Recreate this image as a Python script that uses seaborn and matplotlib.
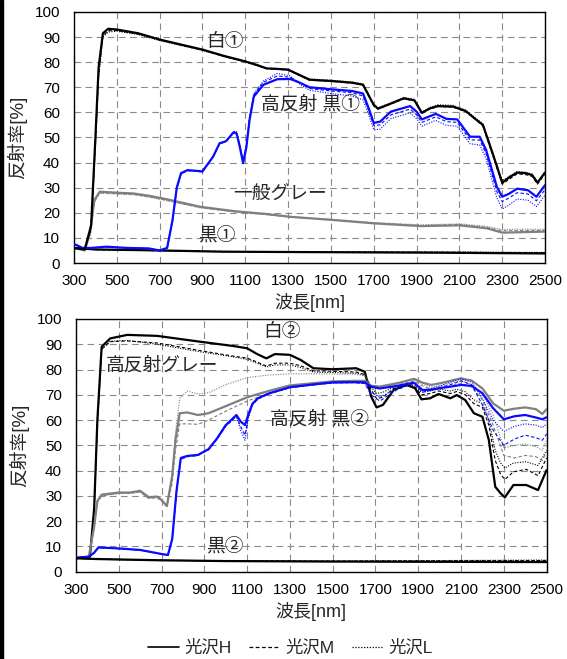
import numpy as np
import pandas as pd
import seaborn as sns
import matplotlib.pyplot as plt
from matplotlib.lines import Line2D

# ---- upper panel (①) ----
wl_white1 = [300, 350, 380, 400, 415, 435, 460, 500, 600, 700, 800, 900, 1000, 1100, 1150, 1200, 1250, 1300, 1350, 1400, 1500,
             1600, 1650, 1700, 1720, 1780, 1840, 1890, 1925, 1960, 2000, 2070, 2130, 2180, 2210, 2260, 2300, 2340, 2370, 2410,
             2440, 2465, 2500]
white1_H = [6.0, 5.4, 15, 50, 78, 91.5, 93.3, 93.0, 91.5, 89.0, 87.0, 85.0, 82.5, 80.3, 79.0, 77.5, 77.3, 77.0, 75.0, 73.0, 72.5,
            71.8, 71.0, 63.0, 61.5, 63.5, 65.6, 64.8, 59.8, 61.5, 62.5, 62.3, 60.5, 57.0, 55.0, 42.5, 32.0, 34.5, 36.0, 35.8,
            35.0, 32.0, 36.0]
white1_M = [6.0, 5.4, 14, 47, 75, 90.5, 92.5, 92.6, 91.2, 88.8, 86.8, 84.8, 82.3, 80.2, 78.8, 77.4, 77.2, 76.8, 74.8, 72.8, 72.4,
            71.6, 70.8, 62.6, 61.2, 63.3, 65.4, 64.6, 59.6, 61.3, 62.3, 62.1, 60.3, 56.8, 54.6, 41.8, 31.4, 33.8, 35.5, 35.2,
            34.5, 31.4, 35.5]
white1_L = [6.0, 5.4, 14, 46, 74, 90.0, 92.0, 92.3, 91.0, 88.6, 86.6, 84.7, 82.2, 80.0, 78.7, 77.5, 77.5, 77.2, 75.2, 73.3, 72.8,
            72.1, 71.3, 63.2, 61.8, 63.8, 65.9, 65.2, 60.1, 61.9, 63.0, 62.8, 60.9, 57.4, 55.4, 42.9, 32.8, 34.9, 36.4, 36.1,
            35.4, 32.4, 36.3]

wl_hb1 = [300, 340, 380, 450, 550, 650, 700, 735, 760, 780, 800, 830, 900, 950, 980, 1010, 1045, 1060, 1075, 1090, 1105, 1120,
          1140, 1185, 1250, 1310, 1350, 1400, 1500, 1600, 1650, 1675, 1700, 1730, 1780, 1870, 1900, 1925, 1990, 2040, 2090,
          2150, 2195, 2225, 2275, 2300, 2330, 2370, 2420, 2460, 2500]
hb1_H = [7.6, 6.0, 6.0, 6.5, 6.0, 5.8, 5.0, 6.0, 17, 30, 35.8, 37.0, 36.5, 42.4, 47.7, 48.5, 52.0, 51.5, 46, 39.8, 46, 57,
         66.3, 71.0, 73.2, 73.3, 72.0, 70.0, 69.2, 68.5, 67.5, 62, 55.8, 56.3, 60.3, 62.5, 60.3, 57.2, 59.4, 57.4, 57.2,
         50.3, 50.3, 45.0, 30.4, 26.4, 27.5, 29.6, 29.0, 26.4, 31.0]
hb1_M = [7.6, 6.0, 6.0, 6.4, 6.0, 5.8, 5.0, 6.0, 16.5, 29.5, 35.5, 36.8, 36.3, 42.2, 47.5, 48.3, 52.2, 52.0, 46.5, 40.5, 46.5, 57.5,
         67.0, 72.0, 74.5, 74.0, 72.0, 69.5, 68.5, 67.8, 66.5, 61.0, 54.8, 55.0, 59.0, 61.3, 59.0, 56.0, 58.2, 56.3, 56.0,
         49.0, 49.0, 43.5, 28.5, 24.5, 25.8, 28.0, 27.5, 24.8, 29.2]
hb1_L = [7.6, 6.0, 6.0, 6.4, 6.0, 5.8, 5.0, 6.0, 16.5, 29.5, 35.5, 36.8, 36.3, 42.2, 47.5, 48.3, 52.5, 52.3, 47.0, 41.0, 47.0, 58.0,
         67.5, 72.5, 75.5, 74.5, 71.5, 68.8, 67.5, 66.5, 65.0, 59.5, 53.0, 53.3, 57.5, 59.8, 57.5, 54.5, 56.8, 54.8, 54.5,
         47.5, 47.0, 41.5, 26.0, 21.5, 23.0, 25.5, 25.0, 22.5, 27.0]

wl_gray1 = [300, 350, 375, 395, 420, 500, 577, 650, 733, 889, 1044, 1200, 1309, 1500, 1700, 1920, 2100, 2230, 2300, 2400, 2500]
gray1_H = [6.0, 5.0, 11.8, 25.0, 28.4, 28.0, 27.7, 26.8, 25.4, 22.4, 20.7, 19.5, 18.4, 17.2, 15.8, 14.7, 15.0, 13.8, 12.1, 12.3, 12.5]
gray1_M = [6.0, 5.0, 11.5, 24.5, 28.0, 27.6, 27.3, 26.4, 25.0, 22.1, 20.5, 19.3, 18.3, 17.2, 15.9, 14.9, 15.3, 14.2, 12.8, 13.0, 13.0]
gray1_L = [6.0, 5.0, 11.3, 24.2, 27.8, 27.5, 27.2, 26.2, 24.8, 22.0, 20.4, 19.3, 18.4, 17.4, 16.1, 15.2, 15.6, 14.6, 13.3, 13.5, 13.4]

wl_black1 = [300, 400, 700, 1000, 1500, 2000, 2500]
black1_H = [6.0, 5.4, 5.0, 4.5, 4.3, 4.1, 3.8]
black1_M = [6.0, 5.3, 4.9, 4.6, 4.4, 4.3, 4.1]
black1_L = [6.0, 5.3, 4.9, 4.5, 4.4, 4.4, 4.2]

# ---- lower panel (②) ----
wl_white2 = [300, 365, 385, 400, 420, 460, 540, 680, 880, 1035, 1100, 1145, 1190, 1230, 1300, 1350, 1410, 1500, 1610, 1650,
             1680, 1705, 1735, 1785, 1845, 1885, 1915, 1955, 1995, 2050, 2080, 2120, 2160, 2200, 2230, 2260, 2285, 2305,
             2345, 2405, 2460, 2500]
white2_H = [5.3, 5.9, 25, 60, 89.0, 92.3, 93.7, 93.3, 91.0, 89.3, 88.4, 86.2, 84.4, 86.1, 85.8, 83.8, 80.5, 80.1, 80.5, 79.1,
            69.3, 65.0, 66.0, 71.9, 73.9, 72.6, 68.2, 68.6, 70.3, 68.6, 69.9, 67.9, 62.7, 61.3, 52.1, 33.6, 31.0, 29.4,
            34.3, 34.3, 32.3, 40.2]
white2_M = [5.3, 5.9, 24, 58, 88.0, 91.0, 91.3, 90.5, 87.5, 85.3, 84.5, 83.0, 81.4, 82.5, 82.5, 81.5, 79.5, 79.3, 79.0, 78.0,
            72.0, 68.5, 69.0, 72.5, 74.0, 73.0, 70.0, 70.5, 71.5, 70.5, 71.3, 70.0, 66.5, 65.0, 58.0, 44.0, 38.5, 36.5,
            39.5, 40.5, 38.0, 45.0]
white2_L = [5.3, 5.9, 24, 58, 88.0, 91.2, 91.5, 90.0, 87.0, 85.0, 84.0, 82.5, 81.0, 81.8, 81.8, 80.8, 79.0, 78.8, 78.5, 77.8,
            73.0, 70.5, 71.0, 73.0, 74.3, 73.5, 71.0, 71.5, 72.3, 71.5, 72.2, 71.2, 68.0, 66.5, 60.0, 48.0, 43.0, 41.0,
            43.0, 43.5, 42.0, 48.0]

wl_gray2 = [300, 360, 385, 400, 420, 500, 550, 600, 640, 680, 700, 725, 750, 765, 785, 820, 870, 920, 1000, 1100, 1200, 1300,
            1400, 1500, 1600, 1650, 1680, 1720, 1800, 1880, 1920, 1960, 2000, 2050, 2100, 2150, 2200, 2250, 2300, 2350, 2400,
            2450, 2480, 2500]
gray2_H = [5.5, 6.0, 17.8, 28.0, 30.5, 31.3, 31.3, 32.0, 29.5, 29.7, 28.4, 26.0, 38.0, 52.0, 62.7, 63.0, 62.0, 62.7, 65.5, 69.0,
           71.5, 73.7, 74.5, 75.3, 75.5, 75.5, 73.5, 73.2, 74.5, 76.3, 74.8, 73.9, 74.5, 75.5, 76.5, 75.6, 72.5, 66.6, 63.7,
           64.5, 65.0, 64.3, 62.4, 64.3]
gray2_M = [5.5, 6.0, 17.5, 27.5, 30.0, 31.0, 31.0, 31.5, 29.0, 29.3, 28.0, 25.8, 35.0, 48.0, 58.5, 58.5, 58.3, 60.0, 63.5, 67.5,
           70.5, 73.0, 74.3, 75.2, 75.4, 75.3, 73.0, 72.5, 73.8, 75.5, 73.5, 72.3, 72.8, 73.5, 74.5, 73.0, 68.0, 58.0, 46.0,
           45.0, 46.0, 45.5, 44.0, 47.5]
gray2_L = [5.5, 6.0, 17.5, 27.5, 30.0, 31.0, 31.0, 31.5, 29.0, 29.3, 28.0, 25.8, 38.0, 55.0, 68.5, 71.5, 70.3, 70.8, 74.0, 76.8,
           77.8, 78.3, 78.3, 78.2, 78.2, 77.5, 73.8, 73.5, 74.8, 76.0, 74.2, 73.0, 73.5, 74.5, 75.5, 74.0, 70.5, 62.0, 49.0,
           50.0, 50.5, 49.5, 48.0, 52.0]

wl_hb2 = [300, 360, 385, 405, 500, 600, 650, 700, 730, 750, 770, 790, 820, 870, 920, 960, 1000, 1050, 1070, 1090, 1105, 1125,
          1150, 1200, 1300, 1400, 1500, 1600, 1650, 1680, 1720, 1800, 1880, 1920, 1960, 2000, 2050, 2100, 2150, 2200, 2250,
          2300, 2350, 2400, 2450, 2480, 2500]
hb2_H = [5.5, 5.9, 7.5, 9.6, 9.2, 8.6, 7.8, 7.0, 6.6, 13.0, 32.0, 45.0, 45.8, 46.2, 48.5, 52.8, 58.0, 62.0, 59.4, 58.0, 62.0, 66.5,
         68.6, 70.5, 73.0, 74.0, 74.9, 75.0, 74.9, 73.2, 72.5, 73.5, 74.8, 71.9, 72.0, 72.6, 73.2, 73.9, 73.5, 70.6, 64.7,
         60.3, 61.5, 62.0, 61.0, 60.3, 61.1]
hb2_M = [5.5, 5.9, 7.5, 9.5, 9.1, 8.5, 7.7, 6.9, 6.5, 12.8, 31.5, 44.5, 45.5, 46.0, 48.3, 52.5, 57.5, 61.5, 57.5, 54.0, 61.0, 66.0,
         68.3, 70.3, 72.8, 73.8, 74.7, 74.8, 74.5, 70.0, 67.5, 72.0, 74.5, 71.0, 71.8, 72.8, 74.0, 75.5, 74.0, 66.0, 56.0,
         50.0, 52.5, 54.0, 53.0, 52.0, 54.5]
hb2_L = [5.5, 5.9, 7.5, 9.5, 9.1, 8.5, 7.7, 6.9, 6.5, 12.8, 31.5, 44.5, 45.5, 46.0, 48.3, 52.5, 57.5, 61.5, 56.0, 52.0, 60.5, 66.0,
         68.3, 70.3, 72.8, 73.8, 74.7, 74.8, 74.5, 71.0, 69.0, 72.5, 74.8, 71.8, 72.5, 73.5, 75.0, 76.3, 75.0, 68.5, 60.0,
         55.5, 57.5, 58.5, 58.0, 57.0, 58.5]

wl_black2 = [300, 400, 700, 1000, 1500, 2000, 2500]
black2_H = [5.3, 5.0, 4.5, 4.2, 4.0, 3.9, 3.8]
black2_M = [5.3, 5.0, 4.5, 4.3, 4.2, 4.3, 4.4]
black2_L = [5.3, 4.9, 4.5, 4.3, 4.2, 4.4, 4.6]

gloss_labels = ["光沢H", "光沢M", "光沢L"]

sns.set_style("white")
plt.rcParams['font.family'] = ['Liberation Sans', 'Noto Sans CJK JP', 'DejaVu Sans']

BLACK, GRAY, BLUE = "#000000", "#7f7f7f", "#0a0aff"
styles = {"H": ("-", 1.6), "M": ((0, (3, 2)), 0.8), "L": ((0, (1, 1.3)), 0.8)}


def draw(ax, wl, H, M, L, color, z):
    for key, vals in (("L", L), ("M", M), ("H", H)):
        ls, lw = styles[key]
        sns.lineplot(x=wl, y=vals, ax=ax, color=color, linestyle=ls, lw=lw,
                     zorder=z + (1 if key == "H" else 0))


fig = plt.figure(figsize=(5.67, 6.59), dpi=100)
ax1 = fig.add_axes([0.1305, 0.6009, 0.8307, 0.381])
ax2 = fig.add_axes([0.134, 0.1325, 0.830, 0.3835])

draw(ax1, wl_gray1, gray1_H, gray1_M, gray1_L, GRAY, 2)
draw(ax1, wl_black1, black1_H, black1_M, black1_L, BLACK, 3)
draw(ax1, wl_hb1, hb1_H, hb1_M, hb1_L, BLUE, 4)
draw(ax1, wl_white1, white1_H, white1_M, white1_L, BLACK, 5)

draw(ax2, wl_white2, white2_H, white2_M, white2_L, BLACK, 2)
draw(ax2, wl_gray2, gray2_H, gray2_M, gray2_L, GRAY, 3)
draw(ax2, wl_hb2, hb2_H, hb2_M, hb2_L, BLUE, 4)
draw(ax2, wl_black2, black2_H, black2_M, black2_L, BLACK, 5)

for ax in (ax1, ax2):
    ax.set_xlim(300, 2500)
    ax.set_ylim(0, 100)
    ax.set_xticks(range(300, 2501, 200))
    ax.set_yticks(range(0, 101, 10))
    ax.set_axisbelow(True)
    ax.grid(True, color="#8a8a8a", linestyle=(0, (6, 4)), lw=0.8)
    for s in ax.spines.values():
        s.set_color("black")
        s.set_linewidth(1.0)
    ax.tick_params(axis="both", direction="in", length=4, width=0.8, labelsize=11, colors="black")
    ax.tick_params(axis="x", pad=8)
    ax.tick_params(axis="y", pad=10)
    ax.set_xlabel("波長[nm]", fontsize=13)
    ax.set_ylabel("反射率[%]", fontsize=13.5)
    ax.xaxis.set_label_coords(0.5, -0.12)
    ax.yaxis.set_label_coords(-0.1, 0.5)

lab = dict(fontsize=13.5, ha="center", va="center")
ax1.text(1005, 88, "白①", **lab)
ax1.text(1405, 63, "高反射 黒①", **lab)
ax1.text(1262, 27, "一般グレー", **lab)
ax1.text(968, 10.4, "黒①", **lab)

ax2.text(1263, 94.5, "白②", **lab)
ax2.text(702, 81.4, "高反射グレー", **lab)
ax2.text(1440, 60, "高反射 黒②", **lab)
ax2.text(996, 9.4, "黒②", **lab)

handles = [Line2D([], [], color="black", linestyle=styles[k][0], lw=1.2 if k == "H" else 0.9) for k in "HML"]
fig.legend(handles, gloss_labels, loc="center", bbox_to_anchor=(0.512, 0.017), ncol=3, frameon=False,
           fontsize=12.5, handlelength=1.8, handletextpad=0.3, columnspacing=1.0)

fig.add_artist(plt.Rectangle((0, 0), 2.5 / 567, 1, transform=fig.transFigure, color="black"))

fig.savefig("out.png", dpi=100)
